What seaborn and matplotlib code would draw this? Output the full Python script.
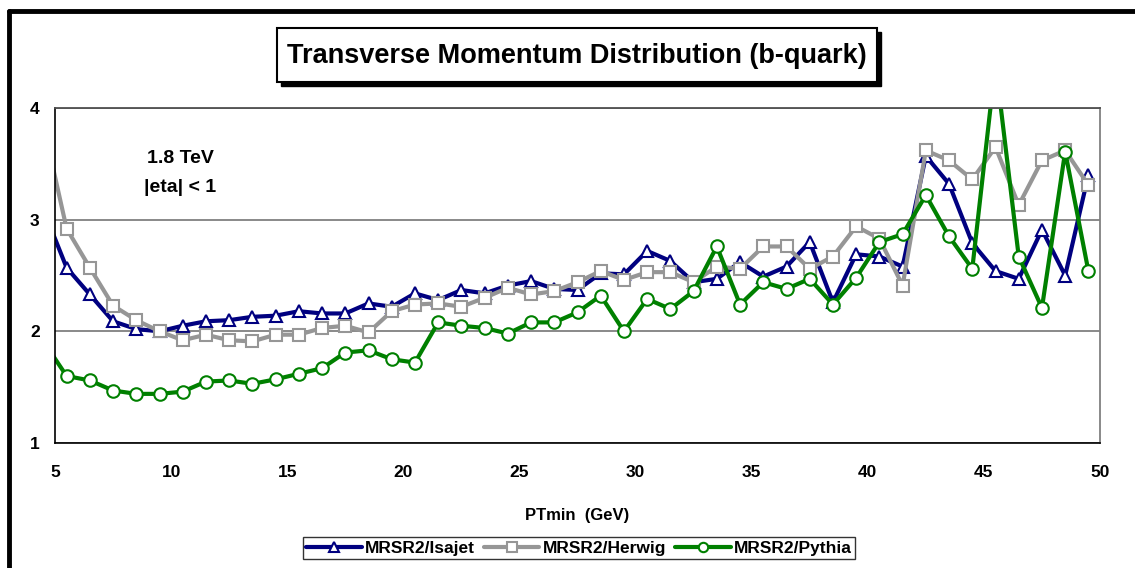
import matplotlib
matplotlib.use("Agg")
import matplotlib.pyplot as plt
from matplotlib.lines import Line2D
from matplotlib.patches import Rectangle
import seaborn as sns

# x positions of the points (PTmin, GeV)
pt = [4.5, 5.5, 6.5, 7.5, 8.5, 9.5, 10.5, 11.5, 12.5, 13.5, 14.5, 15.5,
      16.5, 17.5, 18.5, 19.5, 20.5, 21.5, 22.5, 23.5, 24.5, 25.5, 26.5,
      27.5, 28.5, 29.5, 30.5, 31.5, 32.5, 33.5, 34.5, 35.5, 36.5, 37.5,
      38.5, 39.5, 40.5, 41.5, 42.5, 43.5, 44.5, 45.5, 46.5, 47.5, 48.5, 49.5]

isajet = [3.09, 2.57, 2.33, 2.09, 2.02, 2.00, 2.05, 2.09, 2.10, 2.13, 2.14,
          2.18, 2.16, 2.16, 2.25, 2.22, 2.34, 2.28, 2.37, 2.34, 2.41, 2.45,
          2.38, 2.37, 2.52, 2.51, 2.72, 2.63, 2.44, 2.47, 2.62, 2.49, 2.58,
          2.80, 2.26, 2.69, 2.67, 2.58, 3.57, 3.32, 2.79, 2.54, 2.47, 2.91,
          2.50, 3.40]

herwig = [3.85, 2.92, 2.57, 2.23, 2.10, 2.00, 1.92, 1.97, 1.92, 1.91, 1.97,
          1.97, 2.03, 2.05, 1.99, 2.18, 2.24, 2.25, 2.22, 2.30, 2.39, 2.33,
          2.36, 2.44, 2.54, 2.46, 2.53, 2.53, 2.44, 2.58, 2.56, 2.76, 2.76,
          2.56, 2.67, 2.94, 2.83, 2.41, 3.62, 3.53, 3.36, 3.65, 3.13, 3.53,
          3.62, 3.31]

pythia = [1.91, 1.60, 1.56, 1.47, 1.44, 1.44, 1.46, 1.55, 1.56, 1.53, 1.57,
          1.62, 1.67, 1.81, 1.83, 1.75, 1.72, 2.08, 2.05, 2.03, 1.98, 2.08,
          2.08, 2.17, 2.32, 2.00, 2.29, 2.20, 2.36, 2.76, 2.24, 2.44, 2.38,
          2.47, 2.24, 2.48, 2.80, 2.87, 3.22, 2.85, 2.56, 4.40, 2.67, 2.21,
          3.61, 2.54]

series_names = ["MRSR2/Isajet", "MRSR2/Herwig", "MRSR2/Pythia"]
series_colors = ["#000080", "#969696", "#008000"]
series_markers = ["^", "s", "o"]

x_ticks = [5, 10, 15, 20, 25, 30, 35, 40, 45, 50]
y_ticks = [1, 2, 3, 4]

W, H = 1135, 568

sns.set_style("white")
plt.rcParams['font.family'] = ['Liberation Sans', 'DejaVu Sans']
plt.rcParams['font.weight'] = 'bold'
plt.rcParams['text.color'] = 'black'
plt.rcParams['axes.labelcolor'] = 'black'
plt.rcParams['xtick.color'] = 'black'
plt.rcParams['ytick.color'] = 'black'

fig = plt.figure(figsize=(W / 100, H / 100), dpi=100)
ax = fig.add_axes([55 / W, 1 - 443 / H, 1045 / W, 335 / H])

for vals, name, col, mk in zip([isajet, herwig, pythia], series_names,
                               series_colors, series_markers):
    sns.lineplot(x=pt, y=vals, ax=ax, color=col, linewidth=3.0,
                 marker=mk, markersize=9, markerfacecolor="white",
                 markeredgecolor=col, markeredgewidth=1.5, label=name)

ax.set_xlim(5, 50)
ax.set_ylim(1, 4)
ax.set_xticks(x_ticks)
ax.set_yticks(y_ticks)
ax.tick_params(axis='both', direction='out', length=6, width=1.2,
               color='black', labelcolor='black', labelsize=12.5, pad=5)
ax.tick_params(axis='x', pad=10)
for lab in ax.get_xticklabels() + ax.get_yticklabels():
    lab.set_fontweight('bold')

ax.yaxis.grid(True, color="#808080", linewidth=1.3)
ax.set_axisbelow(True)
ax.spines['left'].set_color('black')
ax.spines['bottom'].set_color('black')
ax.spines['left'].set_linewidth(1.2)
ax.spines['bottom'].set_linewidth(1.2)
ax.spines['top'].set_color('#505050')
ax.spines['right'].set_color('#808080')
ax.spines['top'].set_linewidth(1.3)
ax.spines['right'].set_linewidth(1.3)

ax.set_xlabel("PTmin  (GeV)", fontsize=12, fontweight='bold', labelpad=20,
              color='black')
ax.set_ylabel("")

ax.text(10.4, 3.55, "1.8 TeV", ha='center', va='center', fontsize=14,
        fontweight='bold', color='black')
ax.text(10.4, 3.29, "|eta| < 1", ha='center', va='center', fontsize=14,
        fontweight='bold', color='black')

ax.get_legend().remove()
handles, labels = ax.get_legend_handles_labels()
leg = fig.legend(handles, labels, loc='center', ncol=3,
                 bbox_to_anchor=(579 / W, 1 - 548 / H),
                 frameon=True, fancybox=False, edgecolor='black',
                 prop={'weight': 'bold', 'size': 12.5}, handlelength=3.2,
                 columnspacing=0.5, handletextpad=0.2, borderpad=0.2,
                 borderaxespad=0, markerscale=0.75, labelcolor='black')
leg.get_frame().set_linewidth(1.0)

# title in a box with a drop shadow
fig.add_artist(Rectangle((281 / W, 1 - 86 / H), 600 / W, 54 / H,
                         transform=fig.transFigure, facecolor='black',
                         edgecolor='black'))
fig.add_artist(Rectangle((277 / W, 1 - 82 / H), 600 / W, 54 / H,
                         transform=fig.transFigure, facecolor='white',
                         edgecolor='black', linewidth=1.5))
fig.text(577 / W, 1 - 56 / H,
         "Transverse Momentum Distribution (b-quark)",
         ha='center', va='center', fontsize=19.5, fontweight='bold',
         color='black')

# outer chart frame (cropped)
fig.add_artist(Line2D([9 / W, 9 / W], [0, 1 - 11 / H],
                      color='black', linewidth=3.5))
fig.add_artist(Line2D([9 / W, 1], [1 - 11 / H, 1 - 11 / H],
                      color='black', linewidth=3.5))

fig.savefig("out.png", dpi=100)
